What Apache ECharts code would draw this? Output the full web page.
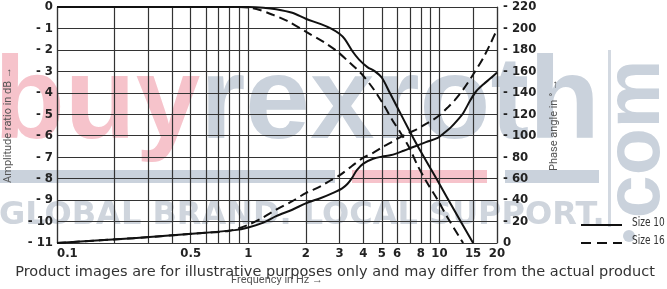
<!DOCTYPE html>
<html><head><meta charset="utf-8">
<script src="https://cdn.jsdelivr.net/npm/echarts@6/dist/echarts.min.js"></script>
<style>html,body{margin:0;padding:0;background:#fff}#c{width:667px;height:289px}</style>
</head><body><div id="c"></div>
<script>
// ---- data ----
const gridFreqs = [0.1,0.2,0.3,0.4,0.5,0.6,0.7,0.8,0.9,1,2,3,4,5,6,7,8,9,10,15,20];
const labelFreqs = [0.1,0.5,1,2,3,4,5,6,8,10,15,20];
const seriesNames = ['Size 10','Size 16'];

const ampFreq10 = [0.1,0.5,0.8,1.0,1.2,1.4,1.7,2.0,2.4,2.7,3.0,3.2,3.5,3.8,4.2,4.6,5.0,5.5,6.0,7.0,8.0,10,12,15];
const amp10     = [0,0,0,0,-0.03,-0.1,-0.27,-0.55,-0.8,-1.0,-1.25,-1.5,-2.05,-2.45,-2.8,-3.0,-3.3,-4.0,-4.65,-5.8,-6.75,-8.25,-9.5,-11];

const ampFreq16 = [0.1,0.8,1.0,1.15,1.35,1.6,2.0,2.5,2.9,3.4,3.9,4.5,5.1,5.7,6.2,7.0,7.6,8.5,9.8,11,13.3];
const amp16     = [0,0,-0.03,-0.14,-0.37,-0.65,-1.15,-1.65,-2.05,-2.6,-3.1,-3.8,-4.55,-5.3,-5.8,-6.6,-7.3,-8.1,-9.0,-9.8,-11];

const phaseFreq10 = [0.1,0.25,0.55,0.85,1.0,1.2,1.4,1.7,2.0,2.4,2.8,3.1,3.3,3.5,3.7,4.0,4.5,5.0,5.6,6.5,7.3,8.5,9.8,10.5,11.5,12.5,13.3,14.5,15.5,17,18.5,20];
const phase10     = [0,4.5,9,12,14.5,19,25,31,37,42,47,51,55,61,68,74,78.5,80.5,82,86,89.5,94,98,102,108,115,121,133,141,148,153.5,159];

const phaseFreq16 = [0.1,0.25,0.55,0.8,1.0,1.2,1.4,1.7,2.0,2.4,2.7,3.0,3.5,4.0,4.5,5.0,5.5,6.0,6.8,7.6,8.5,9.3,10,11,12,13.3,15,17,18.5,20];
const phase16     = [0,4.5,9,11.5,17,24,31,39,46.5,53,58.5,63,72,79.5,84,89,93,97,102,106,111,115,119,126,133,143,157,173,186,199];

// ---- helpers ----
const zip = (xs, ys) => xs.map((x, i) => [x, ys[i]]);
const GRID = '#333';
const tickFont = '"DejaVu Sans Condensed", "Liberation Sans", sans-serif';
const solid = {color:'#111', width:2, type:'solid'};
const dashed = {color:'#111', width:2, type:[9,5]};
const PINK = '#f6c3cb', GREY = '#cad2dc';
const WM_FONT = 'bold 116px "Liberation Sans", Arial, sans-serif';

const chart = echarts.init(document.getElementById('c'), null, {renderer:'canvas'});
const option = {
  animation:false,
  backgroundColor:'#fff',
  grid:{left:57, right:170, top:7, bottom:46, containLabel:false, outerBoundsMode:'none'},
  xAxis:{
    type:'log', logBase:10, min:0.1, max:20,
    axisLine:{show:false}, axisTick:{show:false}, axisLabel:{show:false},
    splitLine:{show:false}, minorSplitLine:{show:false},
    name:'Frequency in Hz →', nameLocation:'middle', nameGap:32,
    nameTextStyle:{fontFamily:'Roboto, sans-serif', fontSize:11, color:'#555'}
  },
  yAxis:[{
    type:'value', min:-11, max:0, interval:1, position:'left',
    axisLine:{show:true, lineStyle:{color:GRID, width:1.2}},
    axisTick:{show:false},
    splitLine:{show:true, lineStyle:{color:GRID, width:1.2}},
    axisLabel:{margin:4, fontFamily:tickFont, fontWeight:'bold', fontSize:13, color:'#222',
      formatter:v => v === 0 ? '0' : '- ' + Math.abs(v)},
    name:'Amplitude ratio in dB →', nameLocation:'middle', nameGap:43, nameRotate:90,
    nameTextStyle:{fontFamily:'Roboto, sans-serif', fontSize:11, color:'#555'}
  },{
    type:'value', min:0, max:220, interval:20, position:'right',
    axisLine:{show:true, lineStyle:{color:GRID, width:1.2}},
    axisTick:{show:false}, splitLine:{show:false},
    axisLabel:{margin:6, fontFamily:tickFont, fontWeight:'bold', fontSize:13, color:'#222',
      formatter:v => v === 0 ? '0' : '- ' + v},
    name:'Phase angle in ° →', nameLocation:'middle', nameGap:52, nameRotate:90,
    nameTextStyle:{fontFamily:'Roboto, sans-serif', fontSize:11, color:'#555'}
  }],
  series:[
    {name:seriesNames[0], type:'line', yAxisIndex:0, data:zip(ampFreq10, amp10), smooth:0.3,
     showSymbol:false, symbol:'none', lineStyle:solid, itemStyle:{color:'#111'}, z:5,
     markLine:{silent:true, symbol:'none', animation:false,
       lineStyle:{color:GRID, width:1.2, type:'solid'},
       label:{show:true, position:'start', distance:4, fontFamily:tickFont, fontWeight:'bold', fontSize:13, color:'#222'},
       data:gridFreqs.map(f => ({xAxis:f, label:{show:labelFreqs.includes(f), formatter:String(f),
         align: f === gridFreqs[0] ? 'left' : 'center'}}))}},
    {name:seriesNames[1], type:'line', yAxisIndex:0, data:zip(ampFreq16, amp16), smooth:0.3,
     showSymbol:false, symbol:'none', lineStyle:dashed, itemStyle:{color:'#111'}, z:5},
    {name:seriesNames[0], type:'line', yAxisIndex:1, data:zip(phaseFreq10, phase10), smooth:0.3,
     showSymbol:false, symbol:'none', lineStyle:solid, itemStyle:{color:'#111'}, z:5},
    {name:seriesNames[1], type:'line', yAxisIndex:1, data:zip(phaseFreq16, phase16), smooth:0.3,
     showSymbol:false, symbol:'none', lineStyle:dashed, itemStyle:{color:'#111'}, z:5}
  ],
  graphic:[
    {type:'group', z:-10, silent:true, children:[
      {type:'text', x:-6, y:106, z:-10, style:{
        text:'{a|buy}{b|rexroth}', font:WM_FONT, verticalAlign:'middle', align:'left',
        rich:{a:{fill:PINK, font:WM_FONT}, b:{fill:GREY, font:WM_FONT}}}},
      {type:'text', x:-1, y:216, z:-10, style:{text:'GLOBAL BRAND. LOCAL SUPPORT.',
        font:'bold 32px "DejaVu Sans", sans-serif', fill:'#cfd5dd', verticalAlign:'middle', align:'left'}},
      {type:'rect', z:-10, shape:{x:0, y:170, width:335, height:13}, style:{fill:GREY}},
      {type:'rect', z:-10, shape:{x:352, y:170, width:135, height:13}, style:{fill:PINK}},
      {type:'rect', z:-10, shape:{x:505, y:170, width:94, height:13}, style:{fill:GREY}},
      {type:'rect', z:-10, shape:{x:608, y:50, width:3, height:177}, style:{fill:'#d3d9e1'}},
      {type:'text', x:638, y:139, rotation:Math.PI/2, z:-10, style:{text:'com',
        font:'bold 77px "Liberation Sans", Arial, sans-serif', fill:GREY, verticalAlign:'middle', align:'center'}},
      {type:'circle', z:-10, shape:{cx:629, cy:236, r:6}, style:{fill:GREY}}
    ]},
    // legend
    {type:'group', z:50, silent:true, children:[
      {type:'line', shape:{x1:581, y1:225, x2:622, y2:225}, style:{stroke:'#111', lineWidth:2}},
      {type:'line', shape:{x1:581, y1:243, x2:622, y2:243}, style:{stroke:'#111', lineWidth:2, lineDash:[10,6]}},
      {type:'text', x:632, y:223, scaleX:0.77, style:{text:seriesNames[0], font:'13px ' + tickFont, fill:'#333', verticalAlign:'middle', align:'left'}},
      {type:'text', x:632, y:241, scaleX:0.77, style:{text:seriesNames[1], font:'13px ' + tickFont, fill:'#333', verticalAlign:'middle', align:'left'}}
    ]},
    {type:'text', x:335, y:272, z:100, silent:true, style:{
      text:'Product images are for illustrative purposes only and may differ from the actual product',
      font:'14.5px "DejaVu Sans", sans-serif', fill:'#333', align:'center', verticalAlign:'middle'}}
  ]
};
chart.setOption(option);
</script>
</body></html>
